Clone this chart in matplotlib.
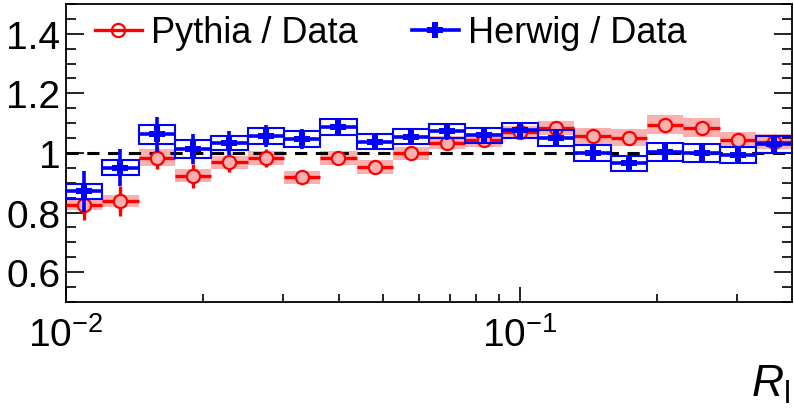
import numpy as np
import matplotlib
matplotlib.use("Agg")
import matplotlib.pyplot as plt
from matplotlib.lines import Line2D
from matplotlib.ticker import FixedLocator, MultipleLocator, LogLocator, NullFormatter

plt.rcParams['font.family'] = ['Liberation Sans', 'DejaVu Sans']
plt.rcParams['mathtext.fontset'] = 'custom'
plt.rcParams['mathtext.rm'] = 'Liberation Sans'
plt.rcParams['mathtext.it'] = 'Liberation Sans:italic'

# 20 log-spaced bins in R_l from 0.01 to ~0.4
bin_edges = 10 ** np.linspace(-2, -0.4, 21)

# Pythia / Data: value, stat error, syst (pink band half-height)
pythia = [0.825, 0.838, 0.984, 0.923, 0.968, 0.982, 0.918, 0.982, 0.954, 0.999,
          1.035, 1.043, 1.071, 1.084, 1.056, 1.051, 1.095, 1.084, 1.043, 1.038]
pythia_stat = [0.05, 0.05, 0.037, 0.04, 0.033, 0.03, 0.012, 0.012, 0.01, 0.01,
               0.01, 0.01, 0.01, 0.01, 0.01, 0.01, 0.01, 0.01, 0.01, 0.01]
pythia_syst = [0.018, 0.02, 0.028, 0.022, 0.023, 0.023, 0.021, 0.023, 0.023, 0.022,
               0.021, 0.022, 0.021, 0.023, 0.028, 0.029, 0.032, 0.032, 0.028, 0.026]

# Herwig / Data
herwig = [0.871, 0.951, 1.062, 1.013, 1.034, 1.057, 1.046, 1.087, 1.037, 1.054,
          1.073, 1.059, 1.076, 1.049, 1.000, 0.965, 1.004, 1.001, 0.993, 1.029]
herwig_stat = [0.07, 0.063, 0.058, 0.05, 0.04, 0.037, 0.033, 0.025, 0.025, 0.028,
               0.028, 0.025, 0.025, 0.027, 0.026, 0.024, 0.03, 0.03, 0.027, 0.028]
herwig_syst = [0.024, 0.024, 0.032, 0.029, 0.024, 0.027, 0.027, 0.027, 0.025, 0.025,
               0.024, 0.024, 0.025, 0.027, 0.026, 0.024, 0.03, 0.03, 0.027, 0.028]

y_ticks = [0.6, 0.8, 1.0, 1.2, 1.4]
y_ticklabels = ["0.6", "0.8", "1", "1.2", "1.4"]

pythia = np.array(pythia)
herwig = np.array(herwig)
pythia_syst = np.array(pythia_syst)
herwig_syst = np.array(herwig_syst)

lo = bin_edges[:-1]
hi = bin_edges[1:]
centers = np.sqrt(lo * hi)
widths = hi - lo
xerr = [centers - lo, hi - centers]

red = '#ff0000'
pink = '#fbb0b0'
blue = '#0000ff'

fig = plt.figure(figsize=(7.94, 4.10), dpi=100)
ax = fig.add_axes([0.083, 0.261, 0.915, 0.727])
ax.set_xscale('log')

# pink syst bands for Pythia
ax.bar(lo, 2 * pythia_syst, bottom=pythia - pythia_syst, width=widths, align='edge',
       color=pink, edgecolor='none', zorder=1)

ax.axhline(1.0, color='k', lw=2.2, ls=(0, (4, 2.8)), zorder=2)

ax.errorbar(centers, pythia, xerr=xerr, yerr=pythia_stat, fmt='o', color=red,
            mfc=pink, mec=red, ms=9.5, mew=1.6, elinewidth=2.4, capsize=0, zorder=3)

# open blue syst boxes for Herwig
ax.bar(lo, 2 * herwig_syst, bottom=herwig - herwig_syst, width=widths, align='edge',
       fill=False, edgecolor=blue, lw=1.5, zorder=4)

ax.errorbar(centers, herwig, xerr=xerr, yerr=herwig_stat, fmt='P', color=blue,
            ms=11, mew=0, elinewidth=2.6, capsize=0, zorder=5)

ax.set_xlim(bin_edges[0], bin_edges[-1])
ax.set_ylim(0.5, 1.5)

ax.yaxis.set_major_locator(FixedLocator(y_ticks))
ax.set_yticklabels(y_ticklabels)
ax.yaxis.set_minor_locator(MultipleLocator(0.05))
ax.xaxis.set_major_locator(LogLocator(base=10, numticks=5))
ax.xaxis.set_minor_locator(LogLocator(base=10, subs=np.arange(2, 10), numticks=20))
ax.xaxis.set_minor_formatter(NullFormatter())

ax.tick_params(axis='y', which='major', direction='in', length=13, width=1.2,
               labelsize=28, right=True, pad=4)
ax.tick_params(axis='y', which='minor', direction='in', length=7, width=1.2, right=True)
ax.tick_params(axis='x', which='major', direction='in', length=11, width=1.2,
               labelsize=28, pad=10)
ax.tick_params(axis='x', which='minor', direction='in', length=6, width=1.2)
for s in ax.spines.values():
    s.set_linewidth(1.3)

handles = [
    Line2D([], [], color=red, lw=2.4, marker='o', ms=9.5, mfc='none', mec=red, mew=1.6),
    Line2D([], [], color=blue, lw=2.6, marker='P', ms=11, mew=0),
]
ax.legend(handles, ["Pythia / Data", "Herwig / Data"], loc='center left',
          bbox_to_anchor=(0.04, 0.903), ncol=2, frameon=False, fontsize=26,
          borderaxespad=0, borderpad=0, handlelength=1.3, handletextpad=0.25,
          columnspacing=1.5)

fig.text(0.995, 0.01, r"$R_{\mathrm{l}}$", ha='right', va='bottom', fontsize=32)

fig.savefig("out.png", dpi=100)
